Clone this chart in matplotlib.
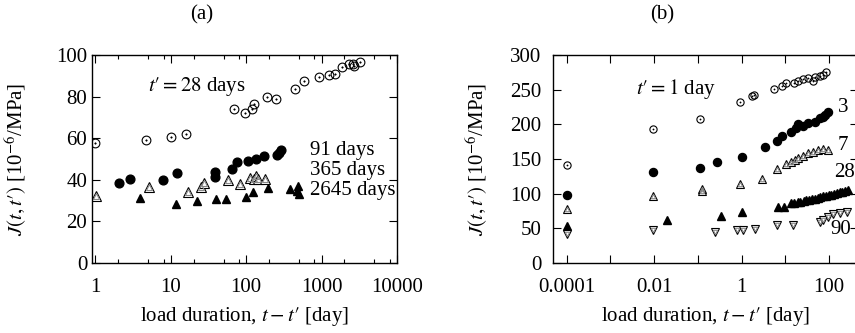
import numpy as np
import matplotlib
matplotlib.use("Agg")
import matplotlib.pyplot as plt
from matplotlib.ticker import FixedLocator, NullFormatter

plt.rcParams['font.family'] = ['Liberation Serif', 'DejaVu Serif']
plt.rcParams['mathtext.fontset'] = 'stix'
plt.rcParams['font.size'] = 15

# ---- panel (a): compliance vs load duration, different ages at loading
a28_x = [0.99, 4.66, 9.9, 16, 69, 97, 119, 127, 187, 247, 441, 592, 935, 1245, 1527, 1890, 2337, 2630, 2720, 3237]
a28_y = [57.8, 59.0, 60.6, 62.2, 73.9, 72.3, 73.9, 76.3, 79.7, 78.7, 83.7, 87.5, 89.6, 90.5, 90.7, 94.2, 95.8, 95.5, 94.7, 96.6]
a91_x = [2.08, 2.89, 7.9, 12, 38.3, 38.6, 65, 75, 107, 135, 173, 259, 275, 288]
a91_y = [38.5, 40.4, 40.1, 43.3, 41.2, 43.75, 45.0, 48.7, 48.9, 50.0, 51.3, 51.9, 53.0, 54.5]
a365_x = [1.01, 5.15, 16.8, 25.2, 27.7, 57, 83, 113, 127, 135, 145, 178]
a365_y = [32.4, 36.4, 34.0, 36.4, 38.6, 39.8, 38.1, 40.7, 40.4, 42.0, 40.4, 40.4]
a2645_x = [3.9, 11.6, 22, 39.5, 53.7, 100, 122, 195, 382, 483, 478, 508]
a2645_y = [31.4, 28.2, 30.0, 30.8, 30.8, 31.7, 34.0, 35.9, 35.4, 37.0, 34.6, 33.0]

# ---- panel (b)
b1_x = [1e-4, 0.0096, 0.112, 0.91, 1.69, 1.94, 5.46, 8.2, 10.6, 15.6, 19.6, 25.6, 33.3, 43, 47, 61, 73, 84]
b1_y = [141.8, 193.7, 207.3, 231.8, 241.3, 242.3, 251.0, 255.3, 259.2, 259.2, 262.5, 265.0, 266.4, 263.0, 267.8, 269.7, 271.2, 275.9]
b3_x = [1e-4, 0.0096, 0.112, 0.277, 1.0, 3.4, 6.3, 8.6, 13.8, 17.1, 19, 25.6, 33.3, 47, 61, 73, 80, 95]
b3_y = [98.0, 130.8, 136.6, 146.1, 152.9, 167.7, 176.0, 183.2, 188.5, 195.2, 200.5, 197.6, 202.4, 203.8, 208.7, 211.0, 213.5, 217.3]
b7_x = [1e-4, 0.0096, 0.122, 0.125, 0.91, 2.95, 6.6, 10.6, 13.8, 16.6, 19.6, 25.6, 33.3, 43, 56, 73, 95]
b7_y = [77.9, 96.6, 107.2, 104.3, 114.4, 121.2, 135.1, 142.8, 146.1, 148.6, 151.0, 154.3, 158.2, 160.5, 163.0, 164.0, 163.0]
b28_x = [1e-4, 0.02, 0.33, 1.0, 6.9, 9.4, 13.8, 16, 19, 22, 26, 30, 35, 40, 47, 55, 63, 73, 84, 97, 112, 130, 150, 175, 200, 230, 265]
b28_y = [53.4, 62.0, 67.8, 74.0, 81.2, 81.2, 86.0, 87.0, 88.0, 88.5, 89.5, 90.5, 91.0, 92.0, 93.0, 94.0, 95.0, 96.0, 96.5, 97.5, 98.5, 100.0, 101.0, 102.0, 103.0, 104.5, 105.5]
b90_x = [1e-4, 0.0096, 0.245, 0.77, 1.05, 2.0, 6.6, 14.6, 61, 73, 95, 123, 176, 250]
b90_y = [41.3, 47.6, 45.2, 47.6, 47.6, 49.5, 54.8, 54.8, 59.6, 62.0, 65.9, 70.2, 72.6, 73.0]

xlab = "load duration, $t - t′$ [day]"
ylab = "$J(t,t′)$ [10$^{-6}$/MPa]"


def dot_circle(ax, x, y, ms):
    ax.plot(x, y, 'o', ms=ms, mfc='none', mec='black', mew=0.8, ls='none')
    ax.plot(x, y, 'o', ms=ms * 0.18, mfc='black', mec='black', mew=0.3, ls='none')


def dot_tri(ax, x, y, ms, m='^'):
    ax.plot(x, y, m, ms=ms, mfc='white', mec='black', mew=0.8, ls='none')
    ax.plot(x, y, m, ms=ms * 0.55, mfc='none', mec='#888888', mew=0.8, ls='none')


def style_axis(ax):
    ax.set_xscale('log')
    ax.tick_params(which='both', direction='in', top=True, right=True, width=0.8)
    ax.tick_params(which='major', length=5.5)
    ax.tick_params(which='minor', length=3)
    for s in ax.spines.values():
        s.set_linewidth(1.0)


fig = plt.figure(figsize=(8.55, 3.33), dpi=100)

# panel (a)
ax1 = fig.add_axes([92 / 855, 1 - 263 / 333, 305 / 855, 208 / 333])
style_axis(ax1)
dot_circle(ax1, a28_x, a28_y, 6.3)
ax1.plot(a91_x, a91_y, 'o', ms=6.3, color='black', ls='none')
dot_tri(ax1, a365_x, a365_y, 6.8)
ax1.plot(a2645_x, a2645_y, '^', ms=5.8, color='black', ls='none')
ax1.set_xlim(0.9, 10000)
ax1.set_ylim(0, 100)
ax1.set_xticks([1, 10, 100, 1000, 10000])
ax1.set_xticklabels(['1', '10', '100', '1000', '10000'])
minors = [m * 10.0 ** k for k in range(-1, 4) for m in (2, 5, 8)]
ax1.xaxis.set_minor_locator(FixedLocator(minors))
ax1.xaxis.set_minor_formatter(NullFormatter())
ax1.set_yticks([0, 20, 40, 60, 80, 100])
ax1.tick_params(axis='x', pad=11)
ax1.tick_params(axis='y', pad=3.5)
ax1.text(5, 85, "$t′ = 28$ days", va='center', ha='left')
ax1.text(700, 54.3, '91 days', va='center', ha='left')
ax1.text(700, 44.7, '365 days', va='center', ha='left')
ax1.text(700, 34.8, '2645 days', va='center', ha='left')
ax1.set_xlabel(xlab)
ax1.set_ylabel(ylab)
ax1.xaxis.set_label_coords(0.5, -0.2)
ax1.yaxis.set_label_coords(-0.207, 0.5)

# panel (b)
ax2 = fig.add_axes([553 / 855, 1 - 263 / 333, 305 / 855, 208 / 333])
style_axis(ax2)
dot_circle(ax2, b1_x, b1_y, 5.2)
ax2.plot(b3_x, b3_y, 'o', ms=5.8, color='black', ls='none')
dot_tri(ax2, b7_x, b7_y, 5.8)
ax2.plot(b28_x, b28_y, '^', ms=5.2, color='black', ls='none')
dot_tri(ax2, b90_x, b90_y, 5.8, m='v')
ax2.set_xlim(10 ** -4.31, 10 ** 2.66)
ax2.set_ylim(0, 300)
ax2.set_xticks([10.0 ** k for k in range(-4, 3)])
ax2.set_xticklabels(['0.0001', '', '0.01', '', '1', '', '100'])
ax2.xaxis.set_minor_locator(FixedLocator([]))
ax2.set_yticks([0, 50, 100, 150, 200, 250, 300])
ax2.tick_params(axis='x', pad=11)
ax2.tick_params(axis='y', pad=8.5)
ax2.text(0.0039, 251, "$t′ = 1$ day", va='center', ha='left')
ax2.text(158, 225, '3', va='center', ha='left', clip_on=False)
ax2.text(158, 170, '7', va='center', ha='left', clip_on=False)
ax2.text(128, 130, '28', va='center', ha='left', clip_on=False)
ax2.text(108, 49, '90', va='center', ha='left', clip_on=False)
ax2.set_xlabel(xlab)
ax2.set_ylabel(ylab)
ax2.xaxis.set_label_coords(0.5, -0.2)
ax2.yaxis.set_label_coords(-0.207, 0.5)

fig.text(202 / 855, 1 - 15 / 333, '(a)', ha='center', va='center')
fig.text(662 / 855, 1 - 15 / 333, '(b)', ha='center', va='center')

fig.savefig('out.png', dpi=100)
